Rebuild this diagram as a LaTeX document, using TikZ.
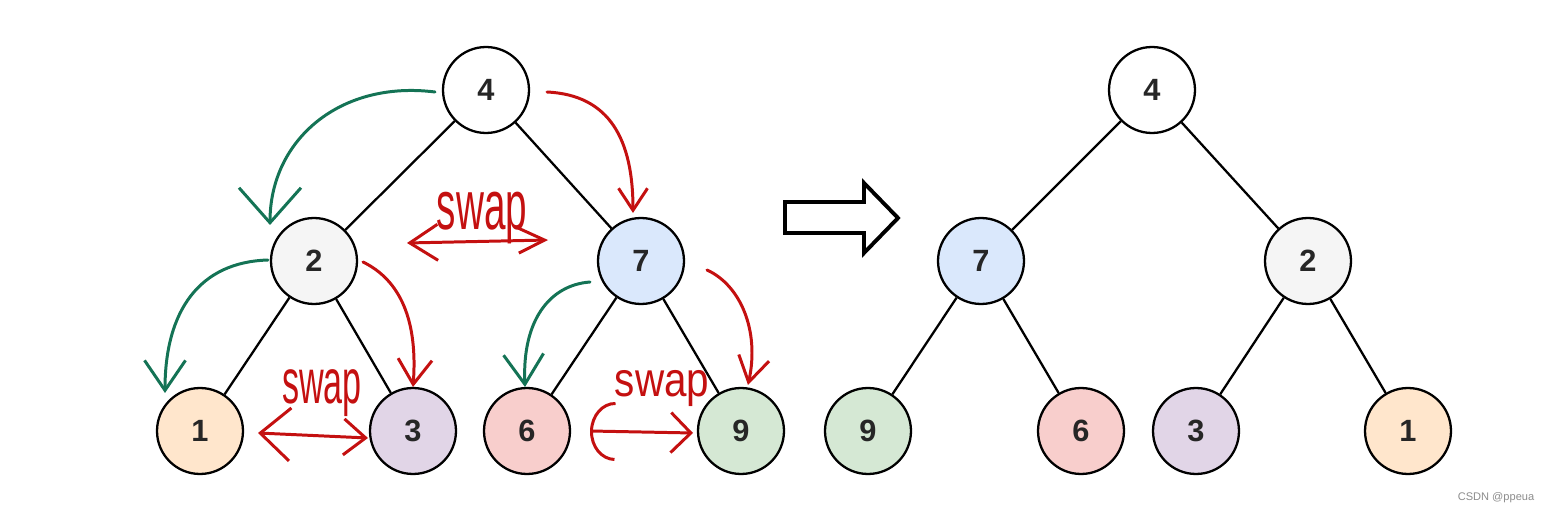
\documentclass[tikz,border=0pt]{standalone}
\usepackage{fontspec}
\usepackage{graphicx}
\setmainfont{Liberation Sans}
\usetikzlibrary{arrows.meta,calc}
\definecolor{hred}{RGB}{196,16,16}
\definecolor{hgreen}{RGB}{20,115,85}
\definecolor{cgray}{HTML}{F5F5F5}
\definecolor{cblue}{HTML}{DAE8FC}
\definecolor{corange}{HTML}{FFE6CC}
\definecolor{cpurple}{HTML}{E1D5E7}
\definecolor{cred}{HTML}{F8CECC}
\definecolor{cgreen}{HTML}{D5E8D4}
\begin{document}
\begin{tikzpicture}[x=0.02cm,y=-0.02cm,>=stealth,
    circ/.style={circle,draw=black,line width=1.3pt,minimum size=1.72cm,inner sep=0pt,
        font=\fontsize{17.5}{19}\selectfont\bfseries,text=black!85},
    edge/.style={line width=1.3pt},
    hand/.style={line width=1.7pt,line cap=round,line join=round},
    swaptxt/.style={text=hred,inner sep=0pt,anchor=base}]
    \useasboundingbox (0,0) rectangle (1546,513);
    \node[circ,fill=white] (l4) at (486,90) {4};
    \node[circ,fill=cgray] (l2) at (314,261) {2};
    \node[circ,fill=cblue] (l7) at (641,261) {7};
    \node[circ,fill=corange] (l1) at (200,431) {1};
    \node[circ,fill=cpurple] (l3) at (413,431) {3};
    \node[circ,fill=cred] (l6) at (527,431) {6};
    \node[circ,fill=cgreen] (l9) at (741,431) {9};
    \draw[edge] (l4) -- (l2);
    \draw[edge] (l4) -- (l7);
    \draw[edge] (l2) -- (l1);
    \draw[edge] (l2) -- (l3);
    \draw[edge] (l7) -- (l6);
    \draw[edge] (l7) -- (l9);
    \draw[hand,hgreen,-{Straight Barb[length=7mm,width=12.4mm]}] ($(l4)+(-51,2)$) .. controls +(-95,-12) and +(0,-85) .. ($(l2)+(-44,-36)$);
    \draw[hand,hred,-{Straight Barb[length=4.4mm,width=5.8mm]}] ($(l4)+(61,2)$) .. controls +(63,3) and +(0,-73) .. ($(l7)+(-8,-48)$);
    \draw[hand,hgreen,-{Straight Barb[length=6mm,width=8.2mm]}] ($(l2)+(-46,-1)$) .. controls +(-68,2) and +(0,-83) .. ($(l1)+(-35,-38)$);
    \draw[hand,hred,-{Straight Barb[length=5mm,width=6.8mm]}] ($(l2)+(49,1)$) .. controls +(37,18) and +(5,-67) .. ($(l3)+(0,-44)$);
    \draw[hand,hgreen,-{Straight Barb[length=6mm,width=8mm]}] ($(l7)+(-51,21)$) .. controls +(-40,3) and +(-3,-67) .. ($(l6)+(-2,-44)$);
    \draw[hand,hred,-{Straight Barb[length=5mm,width=6.2mm]}] ($(l7)+(66,9)$) .. controls +(33,15) and +(12,-55) .. ($(l9)+(7,-46)$);
    \draw[hand,hred,{Straight Barb[length=5.6mm,width=7.2mm]}-{Straight Barb[length=5.2mm,width=5mm]}] ($(l2)+(93,-18)$) -- ($(l7)+(-93,-21)$);
    \draw[hand,hred,{Straight Barb[length=6mm,width=10.6mm]}-{Straight Barb[length=4.4mm,width=7.2mm]}] ($(l1)+(58,2)$) -- ($(l3)+(-45,7)$);
    \draw[hand,hred,{Arc Barb[length=5mm,width=11.8mm]}-{Straight Barb[length=4mm,width=8mm]}] ($(l6)+(63,0)$) -- ($(l9)+(-48,2)$);
    \node[swaptxt] (sw1) at (482,230) {\fontsize{22}{24}\selectfont\scalebox{1}[1.8]{swap}};
    \node[swaptxt] (sw2) at (322,403) {\fontsize{19.4}{22}\selectfont\scalebox{1}[1.85]{swap}};
    \node[swaptxt] (sw3) at (662,397) {\fontsize{23}{25}\selectfont\scalebox{1}[1.2]{swap}};
    \draw[line width=2.2pt,line join=miter] (785,202) -- (864,202) -- (864,183) -- (898,218) -- (864,253) -- (864,233) -- (785,233) -- cycle;
    \node[circ,fill=white] (r4) at (1152,90) {4};
    \node[circ,fill=cblue] (r7) at (981,261) {7};
    \node[circ,fill=cgray] (r2) at (1308,261) {2};
    \node[circ,fill=cgreen] (r9) at (868,431) {9};
    \node[circ,fill=cred] (r6) at (1081,431) {6};
    \node[circ,fill=cpurple] (r3) at (1196,431) {3};
    \node[circ,fill=corange] (r1) at (1408,431) {1};
    \draw[edge] (r4) -- (r7);
    \draw[edge] (r4) -- (r2);
    \draw[edge] (r7) -- (r9);
    \draw[edge] (r7) -- (r6);
    \draw[edge] (r2) -- (r3);
    \draw[edge] (r2) -- (r1);
    \node[text=black!45,font=\fontsize{6.3}{7}\selectfont] (wm) at (1496,498) {CSDN @ppeua};
\end{tikzpicture}
\end{document}
